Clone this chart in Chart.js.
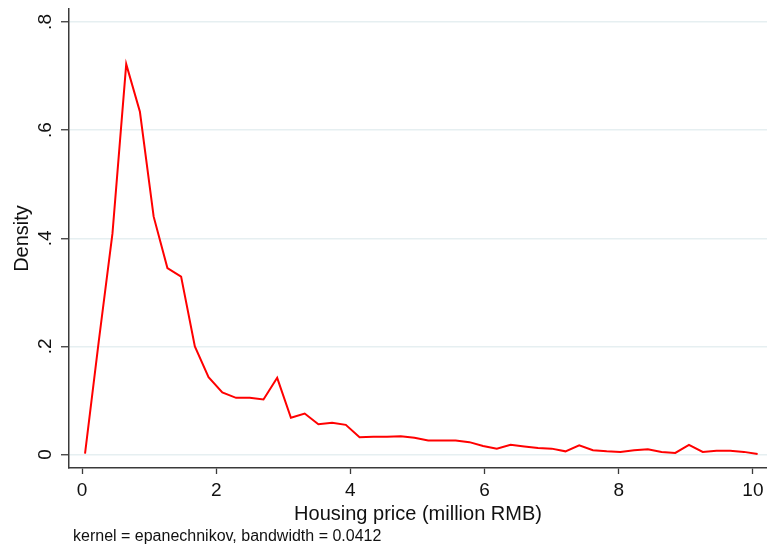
<!DOCTYPE html>
<html>
<head>
<meta charset="utf-8">
<script src="https://cdn.jsdelivr.net/npm/chart.js@4"></script>
<style>
  html, body { margin: 0; padding: 0; background: #ffffff; }
  #wrap { width: 767px; height: 549px; }
</style>
</head>
<body>
<div id="wrap"><canvas id="c" width="767" height="549"></canvas></div>
<script>
// Evaluation points of the kernel density estimate (million RMB)
const priceGrid = [
  0.045, 0.250, 0.454, 0.659, 0.863, 1.068, 1.273, 1.477, 1.682, 1.886,
  2.091, 2.296, 2.500, 2.705, 2.909, 3.114, 3.319, 3.523, 3.728, 3.932,
  4.137, 4.342, 4.546, 4.751, 4.955, 5.160, 5.365, 5.569, 5.774, 5.978,
  6.183, 6.388, 6.592, 6.797, 7.001, 7.206, 7.411, 7.615, 7.820, 8.024,
  8.229, 8.434, 8.638, 8.843, 9.047, 9.252, 9.457, 9.661, 9.866, 10.070
];
// Estimated density at each evaluation point
const densityValues = [
  0.002, 0.210, 0.409, 0.722, 0.634, 0.440, 0.345, 0.329, 0.200, 0.143,
  0.115, 0.105, 0.105, 0.102, 0.142, 0.068, 0.076, 0.056, 0.059, 0.055,
  0.032, 0.033, 0.033, 0.034, 0.031, 0.026, 0.026, 0.026, 0.023, 0.016,
  0.011, 0.018, 0.015, 0.012, 0.011, 0.006, 0.017, 0.008, 0.006, 0.005,
  0.008, 0.010, 0.005, 0.003, 0.018, 0.005, 0.007, 0.007, 0.005, 0.001
];
const xTickValues = [0, 2, 4, 6, 8, 10];
const yTickValues = [0, 0.2, 0.4, 0.6, 0.8];
const yTickLabels = ['0', '.2', '.4', '.6', '.8'];
const xTitle = 'Housing price (million RMB)';
const yTitle = 'Density';
const noteText = 'kernel = epanechnikov, bandwidth = 0.0412';

const FONT = '"Liberation Sans", Arial, Helvetica, sans-serif';
const AXIS_COLOR = '#3a3a3a';
const GRID_COLOR = '#e6eff1';

// Footnote under the x-axis title
const notePlugin = {
  id: 'kdensityNote',
  afterDraw(chart) {
    const ctx = chart.ctx;
    ctx.save();
    ctx.font = '16px ' + FONT;
    ctx.fillStyle = '#111111';
    ctx.textAlign = 'left';
    ctx.textBaseline = 'alphabetic';
    ctx.fillText(noteText, 73, 541);
    ctx.restore();
  }
};

new Chart(document.getElementById('c'), {
  type: 'line',
  data: {
    datasets: [{
      data: priceGrid.map((x, i) => ({ x: x, y: densityValues[i] })),
      borderColor: '#ff0000',
      borderWidth: 2,
      pointRadius: 0,
      tension: 0,
      fill: false
    }]
  },
  options: {
    responsive: false,
    animation: false,
    devicePixelRatio: 1,
    layout: { padding: { top: 9, left: 0, right: 0, bottom: 0 } },
    plugins: { legend: { display: false }, tooltip: { enabled: false } },
    scales: {
      x: {
        type: 'linear',
        min: -0.194,
        max: 10.21,
        afterBuildTicks: (s) => { s.ticks = xTickValues.map(v => ({ value: v })); },
        afterFit: (s) => { s.height = 81; s.paddingLeft = 0; s.paddingRight = 0; },
        grid: {
          drawOnChartArea: false,
          drawTicks: true,
          tickLength: 6,
          tickColor: AXIS_COLOR,
          tickWidth: 1.3
        },
        border: { display: true, color: AXIS_COLOR, width: 1.5 },
        ticks: {
          padding: 5,
          color: '#111111',
          font: { family: FONT, size: 19 },
          maxRotation: 0,
          minRotation: 0,
          callback: (v) => String(v)
        },
        title: {
          display: true,
          text: xTitle,
          color: '#111111',
          font: { family: FONT, size: 20 },
          padding: { top: 0, bottom: 23 }
        }
      },
      y: {
        type: 'linear',
        min: -0.0248,
        max: 0.824,
        afterBuildTicks: (s) => { s.ticks = yTickValues.map(v => ({ value: v })); },
        afterFit: (s) => { s.width = 69; s.paddingTop = 0; s.paddingBottom = 0; },
        grid: {
          drawOnChartArea: true,
          color: GRID_COLOR,
          lineWidth: 1.5,
          drawTicks: true,
          tickLength: 8,
          tickColor: AXIS_COLOR,
          tickWidth: 1.3
        },
        border: { display: true, color: AXIS_COLOR, width: 1.5 },
        ticks: {
          padding: 7,
          color: '#111111',
          crossAlign: 'center',
          minRotation: 90,
          maxRotation: 90,
          font: { family: FONT, size: 19 },
          callback: (v) => {
            const k = yTickValues.indexOf(v);
            return k >= 0 ? yTickLabels[k] : '';
          }
        },
        title: {
          display: true,
          text: yTitle,
          color: '#111111',
          font: { family: FONT, size: 20 },
          padding: { top: 10, bottom: 0 }
        }
      }
    }
  },
  plugins: [notePlugin]
});
</script>
</body>
</html>
